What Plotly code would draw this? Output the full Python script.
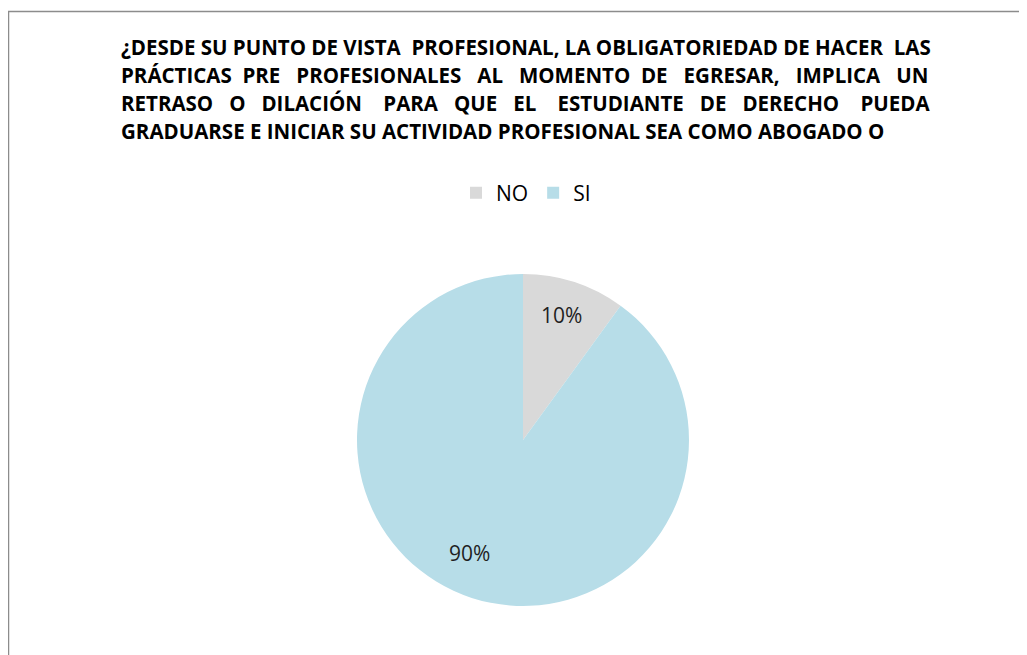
import plotly.graph_objects as go

labels = ["NO", "SI"]
values = [10, 90]
colors = ["#D9D9D9", "#B7DDE8"]
title_lines = [
    "¿DESDE SU PUNTO DE VISTA PROFESIONAL, LA OBLIGATORIEDAD DE HACER LAS",
    "PRÁCTICAS PRE PROFESIONALES AL MOMENTO DE EGRESAR, IMPLICA UN",
    "RETRASO O DILACIÓN PARA QUE EL ESTUDIANTE DE DERECHO PUEDA",
    "GRADUARSE E INICIAR SU ACTIVIDAD PROFESIONAL SEA COMO ABOGADO O",
]
# extra spaces inserted to mimic the justified paragraph (layout only)
title_extra_spaces = [2, 14, 21, 0]

W, H = 1027, 655
OX, OY = 8, 8  # page body margin offset
FONT = "'Open Sans', sans-serif"
TITLE_SIZE = 20.5


def px(x):
    return (x - OX) / W


def py(y):
    return 1 - (y - OY) / H


def justify(line, extra):
    words = line.split(" ")
    gaps = len(words) - 1
    if gaps <= 0 or extra <= 0:
        return line
    out = words[0]
    for g in range(gaps):
        n = 1 + ((g + 1) * extra) // gaps - (g * extra) // gaps
        out += "\u00a0" * n + words[g + 1]
    return out


total = sum(values)
fig = go.Figure(go.Pie(
    labels=labels, values=values, sort=False, direction="clockwise", rotation=0,
    marker=dict(colors=colors, line=dict(width=0)),
    textinfo="none",
    domain=dict(x=[px(357), px(689)], y=[py(606), py(274)]),
    hoverinfo="label+percent",
))

annotations = []
for i, line in enumerate(title_lines):
    annotations.append(dict(
        text=f"<b>{justify(line, title_extra_spaces[i])}</b>", x=px(119), y=py(47 + 28 * i),
        xref="paper", yref="paper", xanchor="left", yanchor="middle",
        showarrow=False, font=dict(family=FONT, size=TITLE_SIZE, color="#000000"),
    ))

# percentage labels placed like the original chart
label_pos = [(561, 315), (469, 553)]
for v, (lx, ly) in zip(values, label_pos):
    annotations.append(dict(
        text=f"{v / total * 100:.0f}%", x=px(lx), y=py(ly),
        xref="paper", yref="paper", xanchor="center", yanchor="middle",
        showarrow=False, font=dict(family=FONT, size=21, color="#1F1F1F"),
    ))

fig.update_layout(
    width=W, height=H, margin=dict(l=0, r=0, t=0, b=0),
    paper_bgcolor="white", plot_bgcolor="white",
    showlegend=True,
    legend=dict(orientation="h", x=px(526), xanchor="center", y=py(193), yanchor="middle",
                font=dict(family=FONT, size=21, color="#000000"), itemwidth=30,
                traceorder="normal"),
    annotations=annotations,
    shapes=[dict(type="rect", xref="paper", yref="paper",
                 x0=px(8.5), x1=1.05, y0=-0.05, y1=py(11.5),
                 line=dict(color="#8C8C8C", width=1.5))],
)

fig.write_html("out.html")
